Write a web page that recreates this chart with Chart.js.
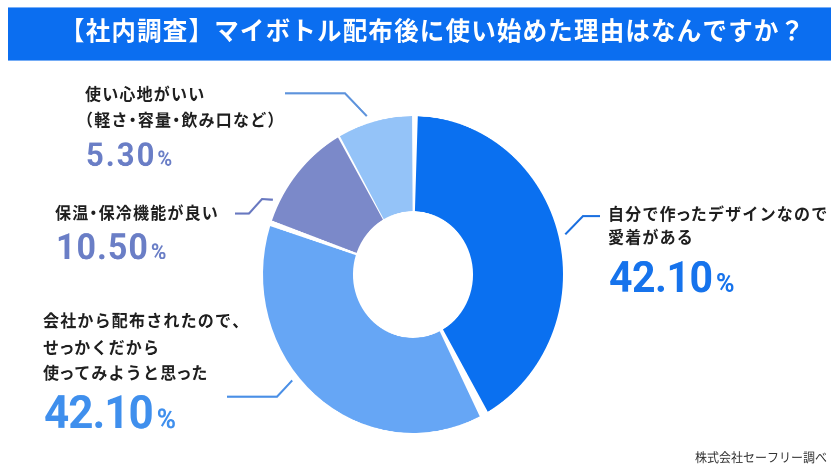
<!DOCTYPE html>
<html lang="ja">
<head>
  <meta charset="UTF-8" />
  <title>マイボトル配布後に使い始めた理由</title>
  <script src="https://cdn.jsdelivr.net/npm/chart.js@4.4.0/dist/chart.umd.min.js"></script>
  <style>
    html, body { margin: 0; padding: 0; background: #fff; }
    #wrap { width: 840px; height: 473px; overflow: hidden; }
    /* the source picture is a little taller than wide, so stretch the drawing */
    #reasonChart { transform: scaleY(1.0558); transform-origin: 0 0; }
  </style>
</head>
<body>
  <div id="wrap"><canvas id="reasonChart" width="840" height="448"></canvas></div>

  <script>
    const title = '【社内調査】マイボトル配布後に使い始めた理由はなんですか？';
    const source = '株式会社セーフリー調べ';
    const reasonLines = [
      ['自分で作ったデザインなので', '愛着がある'],
      ['会社から配布されたので、', 'せっかくだから', '使ってみようと思った'],
      ['保温・保冷機能が良い'],
      ['使い心地がいい', '（軽さ・容量・飲み口など）']
    ];
    const percentTexts = ['42.10', '42.10', '10.50', '5.30'];
    // slice sizes as drawn in the picture (not quite the printed numbers)
    const sliceShares = [42.2, 38.2, 11.4, 8.2];
    const sliceColors = ['#0a70f0', '#66a6f5', '#7b89c9', '#94c3f8'];

    const JA = '"Noto Sans CJK JP", "Noto Sans CJK SC", sans-serif';
    const NUM = 'Roboto, "DejaVu Sans", sans-serif';

    // where each callout sits, one per slice
    const callouts = [
      { x: 608, lines: [208.5, 230.6], numY: 276.3, size: 41, pct: 25, ls: -0.5, color: '#1673ec',
        lineColor: '#1a6fe0', pts: [[600, 204.6], [583, 204.6]], at: 0.5 },
      { x: 43, lines: [309.7, 334.8, 358.9], numY: 405.7, size: 44, pct: 26, ls: -1, color: '#3f8fed',
        lineColor: '#4a8fe6', pts: [[227, 375.7], [277, 375.7]], at: 0.57 },
      { x: 55, lines: [207.7], numY: 245.6, size: 34, pct: 21, ls: 1, color: '#6a7ec6',
        lineColor: '#6878c0', pts: [[235, 202.2], [249, 202.2], [262, 188.5]], at: 0.18 },
      { x: 85, lines: [95.1, 119.5], numY: 157.2, size: 31, pct: 20, ls: 2, color: '#6a7ec6',
        lineColor: '#5d93dc', pts: [[285, 88.4], [345, 88.4]], at: 0.42 }
    ];

    const SMALL_KANA = 'っッゃゅょャュョァィゥェォ';

    // rough stand-in for proportional punctuation / small kana
    function drawSpaced(ctx, str, x, y, size, ls) {
      for (const ch of str) {
        const w = ctx.measureText(ch).width;
        if (ch === '（') {
          ctx.fillText(ch, x - size / 2, y);
          x += w - size / 2 + ls;
        } else if (ch === '・') {
          ctx.fillText(ch, x - size / 4, y);
          x += w - size / 2 + ls;
        } else if (ch === '）' || ch === '、') {
          ctx.fillText(ch, x, y);
          x += w - size / 2 + ls;
        } else if (SMALL_KANA.includes(ch)) {
          ctx.fillText(ch, x - size * 0.1, y);
          x += w - size * 0.2 + ls;
        } else {
          ctx.fillText(ch, x, y);
          x += w + ls;
        }
      }
      return x - ls;
    }

    const calloutPlugin = {
      id: 'callouts',
      afterDraw(chart) {
        const ctx = chart.ctx;
        ctx.save();
        ctx.textBaseline = 'alphabetic';
        ctx.textAlign = 'left';

        // title bar
        ctx.fillStyle = '#0b6ef0';
        ctx.fillRect(8, 7.1, 823, 50.2);
        ctx.fillStyle = '#ffffff';
        ctx.font = `bold 24.5px ${JA}`;
        drawSpaced(ctx, title, 60, 38.1, 24.5, 1.2);

        const arcs = chart.getDatasetMeta(0).data;
        callouts.forEach((c, i) => {
          // leader line, ending just outside its slice
          const arc = arcs[i];
          const a = arc.startAngle + (arc.endAngle - arc.startAngle) * c.at;
          const r = arc.outerRadius + 9.5;
          ctx.beginPath();
          ctx.moveTo(c.pts[0][0], c.pts[0][1]);
          c.pts.slice(1).forEach(p => ctx.lineTo(p[0], p[1]));
          ctx.lineTo(arc.x + Math.cos(a) * r, arc.y + Math.sin(a) * r);
          ctx.strokeStyle = c.lineColor;
          ctx.lineWidth = 2;
          ctx.stroke();

          // reason text
          ctx.fillStyle = '#1f1f1f';
          ctx.font = `bold 16px ${JA}`;
          reasonLines[i].forEach((line, j) => drawSpaced(ctx, line, c.x, c.lines[j], 16, 1.2));

          // percentage
          ctx.fillStyle = c.color;
          ctx.font = `bold ${c.size}px ${NUM}`;
          const end = drawSpaced(ctx, percentTexts[i], c.x + 1, c.numY, c.size, c.ls);
          ctx.font = `bold ${c.pct}px ${NUM}`;
          ctx.fillText('%', end + 3, c.numY);
        });

        // source note
        ctx.fillStyle = '#333333';
        ctx.font = `12px ${JA}`;
        ctx.textAlign = 'right';
        ctx.fillText(source, 827, 437.3);
        ctx.restore();
      }
    };

    new Chart(document.getElementById('reasonChart'), {
      type: 'doughnut',
      data: {
        labels: reasonLines.map(l => l.join('')),
        datasets: [{
          data: sliceShares,
          backgroundColor: sliceColors,
          borderWidth: 0,
          spacing: 5
        }]
      },
      options: {
        responsive: false,
        devicePixelRatio: 2,
        animation: false,
        cutout: '39%',
        layout: { padding: { left: 263, right: 277, top: 110, bottom: 38 } },
        plugins: {
          legend: { display: false },
          tooltip: { enabled: false }
        }
      },
      plugins: [calloutPlugin]
    });
  </script>
</body>
</html>
